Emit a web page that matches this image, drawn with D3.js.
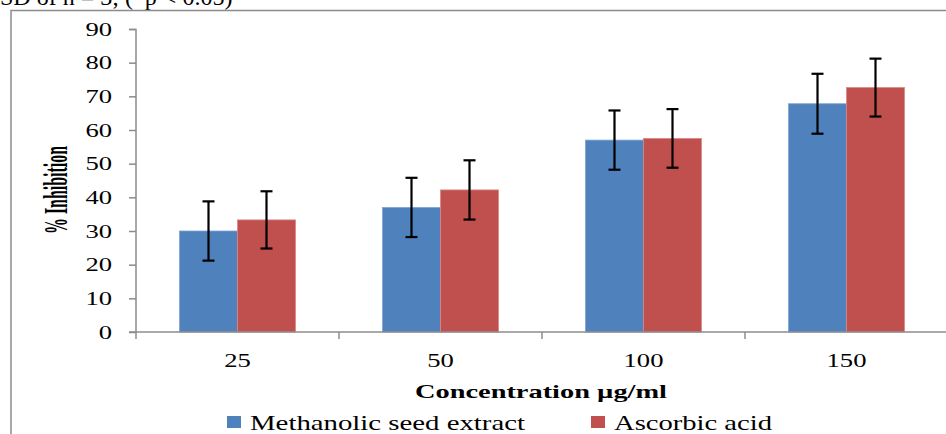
<!DOCTYPE html>
<html>
<head>
<meta charset="utf-8">
<script src="https://cdn.jsdelivr.net/npm/d3@7"></script>
<style>
  body { margin: 0; background: #fff; }
  svg { display: block; }
  text { font-family: 'Liberation Serif', 'Times New Roman', serif; }
</style>
</head>
<body>
<svg></svg>
<script>
const categories = ['25', '50', '100', '150']
const seriesNames = ['Methanolic seed extract', 'Ascorbic acid']
const extractVals = [30, 37, 57, 67.8]
const ascorbicVals = [33.3, 42.2, 57.5, 72.6]
const extractErr = [8.8, 8.8, 8.8, 8.9]
const ascorbicErr = [8.5, 8.8, 8.7, 8.6]
const yTicks = [0, 10, 20, 30, 40, 50, 60, 70, 80, 90]

const width = 946, height = 434
const colors = ['#4F81BD', '#C0504D']
const edges = ['#7FA4D3', '#D98885']
const axisCol = '#8c8c8c'

const svg = d3.select('svg').attr('width', width).attr('height', height)
  .attr('font-family', "'Liberation Serif', serif")

// text in the source image is stretched sideways
const stretch = (sel, sx) => sel.each(function () {
  const w = this.getComputedTextLength()
  d3.select(this).attr('textLength', w * sx).attr('lengthAdjust', 'spacingAndGlyphs')
})

// caption cut off at top
svg.append('text').attr('x', 0).attr('y', 5)
  .attr('font-size', 24).text('SD of n = 3; (*p < 0.05)')

// chart frame
svg.append('path')
  .attr('d', `M11,${height} V10.5 H${width}`)
  .attr('fill', 'none').attr('stroke', axisCol).attr('stroke-width', 1.5)

const x0 = d3.scaleBand().domain(categories).range([136, 948])
const x1 = d3.scaleBand().domain([0, 1]).range([0, 116])
const y = d3.scaleLinear().domain([0, 90]).range([332, 29])

const series = [
  { vals: extractVals, err: extractErr },
  { vals: ascorbicVals, err: ascorbicErr }
]

const g = svg.append('g')
series.forEach((s, si) => {
  g.selectAll(null).data(categories).enter().append('rect')
    .attr('x', (d, i) => x0(d) + x0.bandwidth() / 2 - 58 + x1(si))
    .attr('y', (d, i) => y(s.vals[i]))
    .attr('width', x1.bandwidth())
    .attr('height', (d, i) => y(0) - y(s.vals[i]))
    .attr('fill', colors[si])
    .attr('stroke', edges[si]).attr('stroke-width', 0.8)
})

// axes
const yAxis = d3.axisLeft(y).tickValues(yTicks).tickSize(7).tickPadding(17)
const ya = svg.append('g').attr('transform', 'translate(136,0)').call(yAxis)
  .attr('font-family', null).attr('font-size', null)
ya.select('.domain').attr('d', 'M-7,29.5H0V332')
ya.selectAll('line, path').attr('stroke', axisCol).attr('stroke-width', 1.5)
ya.selectAll('text').attr('font-size', 19).attr('fill', '#000').call(stretch, 1.4)

const xa = svg.append('g').attr('transform', 'translate(0,332)')
xa.append('line').attr('x1', 129).attr('x2', width).attr('stroke', axisCol).attr('stroke-width', 1.5)
xa.selectAll('.tk').data(x0.domain()).enter().append('line')
  .attr('x1', d => x0(d)).attr('x2', d => x0(d))
  .attr('y1', 0).attr('y2', 7)
  .attr('stroke', axisCol).attr('stroke-width', 1.5)
xa.selectAll('.lb').data(categories).enter().append('text')
  .attr('x', d => x0(d) + x0.bandwidth() / 2)
  .attr('y', 35).attr('text-anchor', 'middle')
  .attr('font-size', 19).text(d => d).call(stretch, 1.4)

// error bars
series.forEach((s, si) => {
  const eg = svg.append('g').attr('stroke', '#000').attr('stroke-width', 2.2)
  categories.forEach((c, i) => {
    const cx = x0(c) + x0.bandwidth() / 2 - 58 + x1(si) + x1.bandwidth() / 2
    const top = y(s.vals[i] + s.err[i]), bot = y(s.vals[i] - s.err[i])
    eg.append('line').attr('x1', cx).attr('x2', cx).attr('y1', top).attr('y2', bot)
    eg.append('line').attr('x1', cx - 6).attr('x2', cx + 6).attr('y1', top).attr('y2', top)
    eg.append('line').attr('x1', cx - 6).attr('x2', cx + 6).attr('y1', bot).attr('y2', bot)
  })
})

// axis titles
svg.append('text').attr('x', 541).attr('y', 398).attr('text-anchor', 'middle')
  .attr('font-size', 19).attr('font-weight', 'bold')
  .attr('textLength', 252).attr('lengthAdjust', 'spacingAndGlyphs')
  .text('Concentration µg/ml')
svg.append('text').attr('transform', 'translate(67,190) rotate(-90)')
  .attr('text-anchor', 'middle').attr('font-size', 34).attr('font-weight', 'bold')
  .attr('textLength', 88).attr('lengthAdjust', 'spacingAndGlyphs')
  .text('% Inhibition')

// legend
const legX = [227, 591]
const legLen = [275, 158]
seriesNames.forEach((n, i) => {
  svg.append('rect').attr('x', legX[i]).attr('y', 416).attr('width', 14).attr('height', 12)
    .attr('fill', colors[i])
  svg.append('text').attr('x', legX[i] + 23).attr('y', 430)
    .attr('font-size', 21)
    .attr('textLength', legLen[i]).attr('lengthAdjust', 'spacingAndGlyphs')
    .text(n)
})
</script>
</body>
</html>
